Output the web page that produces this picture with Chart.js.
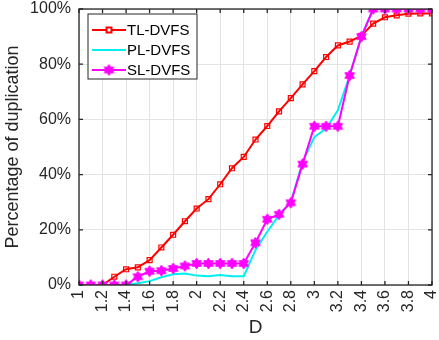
<!DOCTYPE html>
<html>
<head>
<meta charset="utf-8">
<script src="https://cdn.jsdelivr.net/npm/chart.js@4"></script>
<style>
  html, body { margin: 0; padding: 0; background: #fff; }
  #wrap { width: 439px; height: 340px; }
</style>
</head>
<body>
<div id="wrap"><canvas id="c" width="439" height="340"></canvas></div>
<script>
// D values on the x axis
const dValues = [1.0, 1.1, 1.2, 1.3, 1.4, 1.5, 1.6, 1.7, 1.8, 1.9, 2.0, 2.1, 2.2, 2.3, 2.4, 2.5,
                 2.6, 2.7, 2.8, 2.9, 3.0, 3.1, 3.2, 3.3, 3.4, 3.5, 3.6, 3.7, 3.8, 3.9, 4.0];

// percentage of duplication per method
const tlDvfs = [0, 0, 0, 3, 5.7, 6.4, 9, 13.6, 18.2, 23.1, 27.7, 31.1, 36.5, 42.3, 46.4, 52.7,
                57.6, 62.9, 67.7, 72.7, 77.5, 82.6, 86.8, 88.2, 90.3, 94.7, 97, 97.7, 98.3, 98.4, 98.4];
const plDvfs = [0, 0, 0, 0, 0, 0.6, 1.4, 2.8, 3.9, 4.2, 3.4, 3.2, 3.6, 3.2, 3.2, 12.7,
                19.3, 25.3, 30, 44.6, 53.6, 56.7, 63.3, 75.9, 90, 100, 100, 100, 100, 100, 100];
const slDvfs = [0, 0, 0, 0, 0, 3, 5, 5.2, 6, 6.9, 7.8, 7.8, 7.8, 7.8, 7.8, 15.3,
                23.8, 25.6, 29.8, 43.8, 57.5, 57.5, 57.5, 75.9, 90, 100, 100, 100, 100, 100, 100];

const xTicks = [1, 1.2, 1.4, 1.6, 1.8, 2, 2.2, 2.4, 2.6, 2.8, 3, 3.2, 3.4, 3.6, 3.8, 4];
const yTicks = [0, 20, 40, 60, 80, 100];

const axisColor = '#262626';
const gridColor = '#e3e3e3';
const font = 'Arial, "Liberation Sans", sans-serif';

const pts = arr => arr.map((v, i) => ({ x: dValues[i], y: v }));

// filled six-point star marker (matlab 'h'-ish)
function starMarker(color, r) {
  const c = document.createElement('canvas');
  const s = Math.ceil(r * 2 + 2);
  c.width = s; c.height = s;
  const g = c.getContext('2d');
  g.fillStyle = color;
  g.strokeStyle = color;
  g.lineWidth = 1;
  g.beginPath();
  for (let k = 0; k < 12; k++) {
    const rr = k % 2 === 0 ? r : r * 0.6;
    const ang = -Math.PI / 2 + k * Math.PI / 6;
    const px = s / 2 + rr * Math.cos(ang), py = s / 2 + rr * Math.sin(ang);
    k === 0 ? g.moveTo(px, py) : g.lineTo(px, py);
  }
  g.closePath();
  g.fill();
  g.stroke();
  return c;
}
const star = starMarker('#ff00ff', 5.5);

// box around the axes + inward ticks
const boxPlugin = {
  id: 'box',
  afterDraw(chart) {
    const { ctx, chartArea: a, scales } = chart;
    ctx.save();
    ctx.strokeStyle = axisColor;
    ctx.lineWidth = 1.3;
    ctx.strokeRect(a.left, a.top, a.right - a.left, a.bottom - a.top);
    ctx.beginPath();
    xTicks.forEach(t => {
      const px = scales.x.getPixelForValue(t);
      ctx.moveTo(px, a.bottom); ctx.lineTo(px, a.bottom - 4);
      ctx.moveTo(px, a.top); ctx.lineTo(px, a.top + 4);
    });
    yTicks.forEach(t => {
      const py = scales.y.getPixelForValue(t);
      ctx.moveTo(a.left, py); ctx.lineTo(a.left + 4, py);
      ctx.moveTo(a.right, py); ctx.lineTo(a.right - 4, py);
    });
    ctx.stroke();
    ctx.restore();
  }
};

// legend box inside the plot, top-left
const legendPlugin = {
  id: 'boxLegend',
  afterDraw(chart) {
    const { ctx, chartArea: a } = chart;
    const x0 = a.left + 9, y0 = a.top + 5, w = 109, h = 65;
    ctx.save();
    ctx.fillStyle = '#fff';
    ctx.fillRect(x0, y0, w, h);
    ctx.strokeStyle = axisColor;
    ctx.lineWidth = 1;
    ctx.strokeRect(x0, y0, w, h);
    ctx.font = '15px ' + font;
    ctx.textBaseline = 'middle';
    chart.data.datasets.forEach((ds, i) => {
      const y = y0 + 16 + i * 20;
      ctx.strokeStyle = ds.borderColor;
      ctx.lineWidth = 2;
      ctx.beginPath();
      ctx.moveTo(x0 + 4, y); ctx.lineTo(x0 + 38, y);
      ctx.stroke();
      if (ds.pointStyle) {
        Chart.helpers.drawPoint(ctx, {
          pointStyle: ds.pointStyle, radius: ds.pointRadius, borderWidth: ds.pointBorderWidth
        }, x0 + 21, y);
      }
      ctx.fillStyle = '#000';
      ctx.fillText(ds.label, x0 + 39, y + 1);
    });
    ctx.restore();
  }
};

new Chart(document.getElementById('c'), {
  type: 'line',
  data: {
    datasets: [
      {
        label: 'TL-DVFS',
        data: pts(tlDvfs),
        borderColor: '#ff0000',
        backgroundColor: 'rgba(0,0,0,0)',
        borderWidth: 2,
        pointStyle: 'rect',
        pointRadius: 3.5,
        pointBorderWidth: 1.2,
        order: 2
      },
      {
        label: 'PL-DVFS',
        data: pts(plDvfs),
        borderColor: '#00f0f0',
        backgroundColor: '#00f0f0',
        borderWidth: 2,
        pointRadius: 0,
        order: 1
      },
      {
        label: 'SL-DVFS',
        data: pts(slDvfs),
        borderColor: '#ff00ff',
        backgroundColor: '#ff00ff',
        borderWidth: 2,
        pointStyle: star,
        pointRadius: 5.5,
        pointBorderWidth: 1,
        order: 0
      }
    ]
  },
  options: {
    responsive: false,
    animation: false,
    layout: { padding: { top: 9, right: 7, left: 0, bottom: 0 } },
    plugins: { legend: { display: false }, tooltip: { enabled: false } },
    scales: {
      x: {
        type: 'linear',
        min: 1, max: 4,
        afterBuildTicks: s => { s.ticks = xTicks.map(v => ({ value: v })); },
        afterFit: s => { s.height = 55; s.paddingLeft = 0; s.paddingRight = 0; },
        grid: { color: gridColor, drawTicks: false },
        border: { display: false },
        ticks: {
          color: axisColor, font: { family: font, size: 16 },
          minRotation: 90, maxRotation: 90, padding: 5,
          callback: v => String(v)
        },
        title: {
          display: true, text: 'D', color: axisColor,
          font: { family: font, size: 19 }, padding: { top: 0, bottom: 1 }
        }
      },
      y: {
        min: 0, max: 100,
        afterBuildTicks: s => { s.ticks = yTicks.map(v => ({ value: v })); },
        afterFit: s => { s.width = 79; s.paddingTop = 0; s.paddingBottom = 0; },
        grid: { color: gridColor, drawTicks: false },
        border: { display: false },
        ticks: {
          color: axisColor, font: { family: font, size: 16 }, padding: 8,
          callback: v => v + '%'
        },
        title: {
          display: true, text: 'Percentage of duplication', color: axisColor,
          font: { family: font, size: 18 }, padding: { top: 2, bottom: 0 }
        }
      }
    }
  },
  plugins: [boxPlugin, legendPlugin]
});
</script>
</body>
</html>
